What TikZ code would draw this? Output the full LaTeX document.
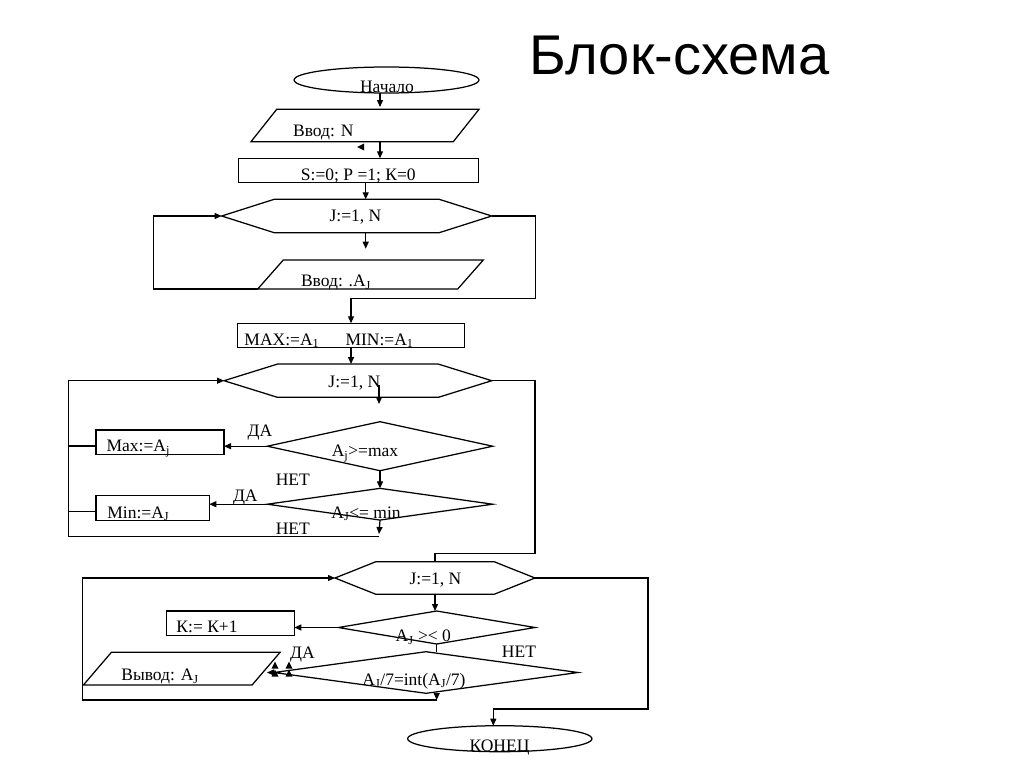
\documentclass[tikz,border=0pt]{standalone}
\usepackage{fontspec}
\setmainfont{Liberation Serif}
\newfontfamily\headfont{Liberation Sans}
\usetikzlibrary{arrows.meta,shapes.geometric}
\newcommand{\loopshape}[2]{\draw (#1.west) -- ([xshift=#2]#1.north west) -- ([xshift=-#2]#1.north east) -- (#1.east) -- ([xshift=-#2]#1.south east) -- ([xshift=#2]#1.south west) -- cycle;}
\newcommand{\ioshape}[2]{\draw ([xshift=#2]#1.north west) -- (#1.north east) -- ([xshift=-#2]#1.south east) -- (#1.south west) -- cycle;}
\tikzset{
  holder/.style={inner sep=0pt, outer sep=0pt},
  term/.style={holder, draw, ellipse, minimum width=185, minimum height=26},
  proc/.style={holder, draw, minimum height=24.5},
  test/.style={holder, draw, diamond},
  lbl/.style={inner sep=0pt, anchor=base, font=\fontsize{17.5}{20}\selectfont},
  arr/.style={-{Triangle[length=7pt,width=6pt]}}
}
\begin{document}
\begin{tikzpicture}[x=1pt,y=-1pt,line width=1.25pt]
  \useasboundingbox (0,0) rectangle (1024,768);

  \node[anchor=base west, inner sep=0pt, font=\headfont\fontsize{56}{62}\selectfont] (title) at (529,74.3) {Блок-схема};

  % input and first loop
  \node[term] (start) at (386.5,80) {};
  \node[holder, minimum width=228, minimum height=32.4] (in1) at (365,125.5) {};
  \ioshape{in1}{25.7}
  \node[proc, minimum width=240] (init) at (358.3,170.5) {};
  \node[holder, minimum width=270, minimum height=33.4] (loopA) at (356.7,216) {};
  \loopshape{loopA}{52.5}
  \node[holder, minimum width=225.6, minimum height=29] (in2) at (370.5,274.5) {};
  \ioshape{in2}{25.6}

  % max and min
  \node[proc, minimum width=226.6] (init2) at (351,335.5) {};
  \node[holder, minimum width=267.7, minimum height=33.3] (loopB) at (357.9,380.7) {};
  \loopshape{loopB}{53.5}
  \node[test, minimum width=225.4, minimum height=49] (cmpMax) at (380,446.2) {};
  \node[proc, minimum width=128] (setMax) at (160,442.2) {};
  \node[test, minimum width=225.4, minimum height=31.7] (cmpMin) at (380,504.2) {};
  \node[proc, minimum width=113.3, minimum height=25] (setMin) at (152.7,508.2) {};

  % output loop
  \node[holder, minimum width=200, minimum height=32.3] (loopC) at (435,578) {};
  \loopshape{loopC}{40.5}
  \node[test, minimum width=196.7, minimum height=33] (sign) at (436.7,627.5) {};
  \node[proc, minimum width=127.6, minimum height=24.7] (setK) at (230.5,623.3) {};
  \node[test, minimum width=304, minimum height=41.6] (div) at (426,672.5) {};
  \node[holder, minimum width=196.7, minimum height=32.7] (out) at (181.7,668.7) {};
  \ioshape{out}{28}
  \node[term, minimum width=184.3] (fin) at (499.8,738.7) {};

  % texts
  \node[lbl] (tStart) at (387,92.3) {Начало};
  \node[lbl] (tIn1) at (323.3,136) {Ввод: N};
  \node[lbl] (tInit) at (358.3,180.7) {S:=0; P =1; К=0};
  \node[lbl] (tLoopA) at (355.5,221.7) {J:=1, N};
  \node[lbl] (tIn2) at (336,286.7) {Ввод: .A\textsubscript{J}};
  \node[lbl] (tInit2) at (329,345) {MAX:=A\textsubscript{1}\hspace{1.5em}MIN:=A\textsubscript{1}};
  \node[lbl] (tLoopB) at (354.3,387.3) {J:=1, N};
  \node[lbl] (tYes1) at (260,436) {ДА};
  \node[lbl] (tSetMax) at (138.3,451.7) {Max:=A\textsubscript{j}};
  \node[lbl] (tCmpMax) at (365,456.7) {A\textsubscript{j}>=max};
  \node[lbl] (tNo1) at (292.8,485) {НЕТ};
  \node[lbl] (tYes2) at (245.3,501.7) {ДА};
  \node[lbl] (tSetMin) at (138.3,518.3) {Min:=A\textsubscript{J}};
  \node[lbl] (tCmpMin) at (366,518.3) {A\textsubscript{J}<= min};
  \node[lbl] (tNo2) at (292.8,534) {НЕТ};
  \node[lbl] (tLoopC) at (435.5,584.3) {J:=1, N};
  \node[lbl] (tSetK) at (207,632.7) {К:= К+1};
  \node[lbl] (tSign) at (423.3,641.7) {A\textsubscript{J} >< 0};
  \node[lbl] (tYes3) at (302.5,658.3) {ДА};
  \node[lbl] (tNo3) at (519,657.3) {НЕТ};
  \node[lbl] (tOut) at (160,680.7) {Вывод: A\textsubscript{J}};
  \node[lbl] (tDiv) at (414,685) {A\textsubscript{J}/7=int(A\textsubscript{J}/7)};
  \node[lbl] (tFin) at (499.5,751.7) {КОНЕЦ};

  \coordinate (backB) at (379,536.7);
  \coordinate (leftB) at (68.3,536.7);
  \coordinate (backC) at (436.7,700);
  \coordinate (leftC) at (82.3,700);

  % connectors
  \draw[arr] ([xshift=-6.5]start.south) -- ++(0,14);
  \fill (357,147) -- (364,143.5) -- (364,150.5) -- cycle;
  \draw[arr] ([xshift=15]in1.south) -- ([xshift=15]in1.south |- init.north);
  \draw[arr] ([xshift=7.4]init.south) -- ([xshift=7.4]init.south |- loopA.north);
  \draw[arr] ([xshift=9]loopA.south) -- ++(0,16);
  \draw[arr] (in2.south west) -- ++(-104.4,0) |- (loopA.west);
  \draw[arr] (loopA.east) -- ++(44,0) -- ++(0,82.3) -| (init2.north);

  \draw[arr] (init2.south) -- (init2.south |- loopB.north);
  \draw[arr] ([xshift=21.1,yshift=-4.3]loopB.center) -- ++(0,19);
  \draw[arr] (cmpMax.west) -- (cmpMax.west -| setMax.east);
  \draw[arr] (cmpMax.south) -- (cmpMin.north);
  \draw[arr] (cmpMin.west) -- (cmpMin.west -| setMin.east);
  \draw[arr] (cmpMin.south) -- ([yshift=2.7]backB);
  \draw[arr] (backB) -- (leftB) |- (loopB.west);
  \draw ([yshift=-3.8]setMax.west) -- ([yshift=-3.8]setMax.west -| leftB);
  \draw ([yshift=-3.5]setMin.west) -- ([yshift=-3.5]setMin.west -| leftB);
  \draw (loopB.east) -- ++(43.3,0) |- ([yshift=8.4]loopC.north) -- (loopC.north);

  \draw[arr] (loopC.south) -- (loopC.south |- sign.north);
  \draw[arr] (sign.west) -- (sign.west -| setK.east);
  \draw (sign.south) -- (sign.south |- div.north);
  \draw[arr] (div.west) -- ++(-7,0);
  \foreach \x in {275,289}
    \foreach \y in {665,673}
      \fill (\x-3.5,\y+3.5) -- (\x+3.5,\y+3.5) -- (\x,\y-3.5) -- cycle;
  \draw[arr] (sign.south |- div.south) -- (backC);
  \draw[arr] (backC) -- (leftC) |- (loopC.west);
  \draw[arr] (loopC.east) -- ++(113,0) -- ++(0,131) -| ([xshift=-6.5]fin.north);
\end{tikzpicture}
\end{document}
